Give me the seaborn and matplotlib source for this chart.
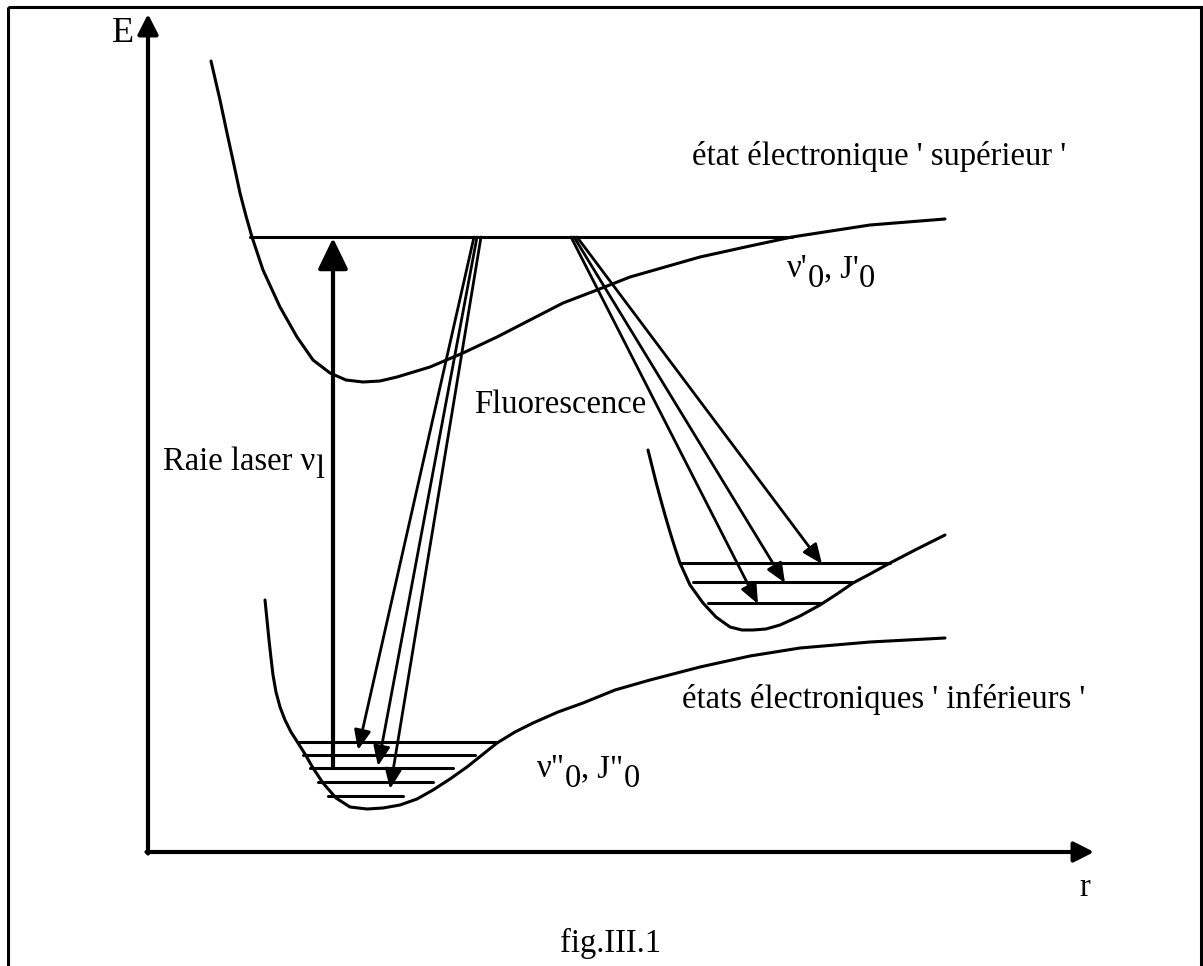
import numpy as np
import pandas as pd
import seaborn as sns
import matplotlib.pyplot as plt
from matplotlib.patches import Rectangle

# ---------------- data (r to the right, E downward in px) ----------
upper_r = [211, 220, 227, 234, 240, 246, 252, 263, 280, 297, 313, 330, 346, 363, 380, 397,
           430, 463, 497, 530, 563, 597, 630, 700, 750, 792, 870, 945]
upper_E = [61, 100, 133, 165, 193, 216, 237, 270, 307, 337, 360, 373, 380, 382, 381, 377,
           367, 353, 337, 320, 303, 290, 277, 257, 246, 237, 225, 219]

lower_r = [265, 267, 269, 271, 273, 276, 280, 285, 291, 298, 305, 313, 323, 336, 350, 367,
           383, 400, 417, 433, 450, 467, 482, 497, 515, 533, 558, 583, 615, 650, 700, 750,
           800, 870, 945]
lower_E = [600, 620, 640, 658, 675, 692, 707, 720, 732, 743, 754, 768, 783, 798, 807, 809,
           808, 805, 799, 790, 779, 767, 755, 743, 732, 723, 712, 703, 690, 680, 667, 656,
           648, 642, 638]

mid_r = [648, 652, 656, 660, 665, 670, 675, 680, 690, 703, 716, 730, 742, 753, 766, 780,
         800, 820, 837, 853, 870, 890, 917, 945]
mid_E = [450, 466, 482, 497, 515, 532, 548, 563, 585, 603, 617, 627, 630, 630, 629, 625,
         616, 605, 594, 583, 574, 563, 549, 535]

# vibrational levels: y position, left end, right end
upper_level_E = [237]
upper_level_r0 = [250]
upper_level_r1 = [792]

lower_levels_E = [742, 755, 768, 782, 796]
lower_levels_r0 = [298, 303, 310, 318, 328]
lower_levels_r1 = [497, 475, 453, 433, 403]

mid_levels_E = [563, 582, 603]
mid_levels_r0 = [680, 693, 708]
mid_levels_r1 = [890, 853, 820]

# laser excitation
laser_r = [333, 333]
laser_E = [768, 238]

# fluorescence arrows: (start r, start E) -> (tip r, tip E)
fluo_low_start_r = [474, 477, 481]
fluo_low_start_E = [237, 237, 237]
fluo_low_tip_r = [358, 378, 390]
fluo_low_tip_E = [750, 766, 789]

fluo_mid_start_r = [571, 574, 577]
fluo_mid_start_E = [237, 237, 237]
fluo_mid_tip_r = [758, 785, 822]
fluo_mid_tip_E = [604, 583, 564]

# ---------------- figure ----------------
sns.set_theme(style="white")
plt.rcParams['font.family'] = ['Liberation Serif', 'DejaVu Serif']

fig = plt.figure(figsize=(12.03, 9.66), dpi=100)
ax = fig.add_axes([0, 0, 1, 1])
ax.set_xlim(0, 1203)
ax.set_ylim(966, 0)
ax.axis('off')

K = 'black'
LW = 2.2

# frame
ax.add_patch(Rectangle((8, 7), 1193, 1000, fill=False, ec=K, lw=2.2))

# potential curves
for r, E in [(upper_r, upper_E), (lower_r, lower_E), (mid_r, mid_E)]:
    sns.lineplot(x=r, y=E, sort=False, estimator=None, color=K, lw=LW, ax=ax)

# levels
for E, r0, r1 in [(upper_level_E, upper_level_r0, upper_level_r1),
                  (lower_levels_E, lower_levels_r0, lower_levels_r1),
                  (mid_levels_E, mid_levels_r0, mid_levels_r1)]:
    for e, a, b in zip(E, r0, r1):
        sns.lineplot(x=[a, b], y=[e, e], sort=False, estimator=None, color=K, lw=LW, ax=ax)

# axes arrows
axis_arrow = dict(arrowstyle='-|>,head_length=0.55,head_width=0.28', color=K, lw=3,
                  mutation_scale=22, shrinkA=0, shrinkB=0)
ax.annotate('', xy=(148, 14), xytext=(148, 853.5), arrowprops=axis_arrow)
ax.annotate('', xy=(1094, 852), xytext=(146.5, 852), arrowprops=axis_arrow)

# laser arrow
ax.annotate('', xy=(laser_r[1], laser_E[1]), xytext=(laser_r[0], laser_E[0]),
            arrowprops=dict(arrowstyle='-|>,head_length=0.95,head_width=0.46', color=K,
                            lw=3, mutation_scale=20, shrinkA=0, shrinkB=0))

# fluorescence arrows
for sr, se, tr, te in zip(fluo_low_start_r + fluo_mid_start_r,
                          fluo_low_start_E + fluo_mid_start_E,
                          fluo_low_tip_r + fluo_mid_tip_r,
                          fluo_low_tip_E + fluo_mid_tip_E):
    ax.annotate('', xy=(tr, te), xytext=(sr, se),
                arrowprops=dict(arrowstyle='-|>,head_length=0.85,head_width=0.36', color=K,
                                lw=2.0, mutation_scale=14, shrinkA=0, shrinkB=0))

FS = 23.5


def chained(x, y, parts, fs=FS):
    """parts: list of (text, vertical shift in points relative to previous piece)."""
    prev = ax.text(x, y, parts[0][0], fontsize=fs, color=K, va='baseline', ha='left')
    for s, dy in parts[1:]:
        prev = ax.annotate(s, xy=(1, 0), xycoords=prev, xytext=(0, dy),
                           textcoords='offset points', fontsize=fs, color=K,
                           va='bottom', ha='left')
    return prev


ax.text(112, 42, 'E', fontsize=26, color=K, va='baseline')
ax.text(1079, 896, 'r', fontsize=FS, color=K, va='baseline')
ax.text(692, 165, "état électronique ' supérieur '", fontsize=FS, color=K, va='baseline')
chained(787, 277, [("ν'", 0), ("0", -7), (", J'", 7), ("0", -7)])
ax.text(474, 413, 'Fluorescence', fontsize=FS, color=K, va='baseline')
chained(163, 470, [("Raie laser ν", 0), ("l", -6)])
ax.text(682, 708, "états électroniques ' inférieurs '", fontsize=FS, color=K, va='baseline')
chained(537, 777, [('ν"', 0), ("0", -7), (', J"', 7), ("0", -7)])
ax.text(560, 952, 'fig.III.1', fontsize=FS, color=K, va='baseline')

fig.savefig('out.png', dpi=100)
